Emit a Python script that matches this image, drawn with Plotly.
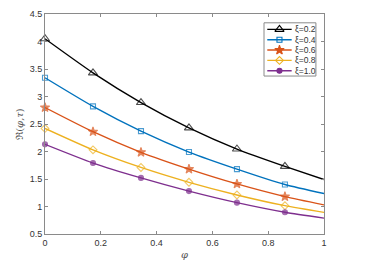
import plotly.graph_objects as go

phi = [0.0, 0.172, 0.344, 0.516, 0.688, 0.86, 1.0]
names = ["ξ=0.2", "ξ=0.4", "ξ=0.6", "ξ=0.8", "ξ=1.0"]
v_02 = [4.05, 3.43, 2.89, 2.43, 2.045, 1.73, 1.49]
v_04 = [3.34, 2.82, 2.37, 1.99, 1.68, 1.40, 1.235]
v_06 = [2.80, 2.36, 1.985, 1.68, 1.41, 1.18, 1.03]
v_08 = [2.42, 2.03, 1.71, 1.44, 1.21, 1.015, 0.893]
v_10 = [2.13, 1.79, 1.52, 1.28, 1.07, 0.895, 0.788]
series = [v_02, v_04, v_06, v_08, v_10]
x_ticks = [0, 0.2, 0.4, 0.6, 0.8, 1]
y_ticks = [0.5, 1, 1.5, 2, 2.5, 3, 3.5, 4, 4.5]

colors = ["#000000", "#0072BD", "#D95319", "#EDB120", "#7E2F8E"]
symbols = ["triangle-up-open", "square-open", "star", "diamond-open", "circle"]
msizes = [8, 5, 7, 6, 5]

AX_COLOR = "#8a8a8a"
TXT_COLOR = "#333333"
FONT = "Liberation Sans, Arial"

fig = go.Figure()
for name, vals, c, s, ms in zip(names, series, colors, symbols, msizes):
    sizes = [ms] * (len(vals) - 1) + [0]
    fig.add_trace(go.Scatter(
        x=phi, y=vals, name=name, mode="lines+markers", showlegend=False, cliponaxis=False,
        line=dict(color=c, width=1.4, shape="spline", smoothing=0.6),
        marker=dict(symbol=s, size=sizes, color=c, line=dict(color=c, width=1.1)),
        xaxis="x", yaxis="y",
    ))

# compact legend drawn in its own small axes box
for i, (name, c, s, ms) in enumerate(zip(names, colors, symbols, msizes)):
    yy = 1 - (0.124 + i * 0.194)
    fig.add_trace(go.Scatter(
        x=[0.063, 0.533], y=[yy, yy], mode="lines", showlegend=False, hoverinfo="skip",
        line=dict(color=c, width=1.4), xaxis="x2", yaxis="y2"))
    fig.add_trace(go.Scatter(
        x=[0.298], y=[yy], mode="markers", showlegend=False, hoverinfo="skip",
        marker=dict(symbol=s, size=ms, color=c, line=dict(color=c, width=1.1)),
        xaxis="x2", yaxis="y2"))
    fig.add_annotation(x=0.56, y=yy, xref="x2", yref="y2", text=name, showarrow=False,
                       xanchor="left", yanchor="middle",
                       font=dict(family=FONT, size=8.5, color=TXT_COLOR))

axis_common = dict(showline=True, linecolor=AX_COLOR, linewidth=1, mirror="ticks",
                   ticks="inside", ticklen=3, tickcolor=AX_COLOR, showgrid=False,
                   zeroline=False, automargin=False,
                   tickfont=dict(family=FONT, size=9, color=TXT_COLOR))

fig.update_layout(
    width=371, height=270,
    margin=dict(l=45, r=47, t=14, b=36),
    plot_bgcolor="rgba(0,0,0,0)", paper_bgcolor="white",
    xaxis=dict(range=[0, 1], tickvals=x_ticks, ticktext=[f"{t:g}" for t in x_ticks],
               title=dict(text="<i>φ</i>", standoff=4, font=dict(family="DejaVu Serif", size=10, color="#555555")),
               domain=[0, 1], **axis_common),
    yaxis=dict(range=[0.5, 4.5], tickvals=y_ticks, ticktext=[f"{t:g}" for t in y_ticks],
               title=dict(text="ℜ(<i>φ</i>,<i>τ</i>)", standoff=4, font=dict(family="DejaVu Serif", size=10, color="#555555")),
               domain=[0, 1], **axis_common),
    xaxis2=dict(domain=[0.785, 0.971], range=[0, 1], visible=False, anchor="y2", fixedrange=True),
    yaxis2=dict(domain=[0.718, 0.960], range=[0, 1], visible=False, anchor="x2", fixedrange=True),
    shapes=[dict(type="rect", xref="paper", yref="paper", x0=0.785, x1=0.971, y0=0.718, y1=0.960,
                 fillcolor="white", line=dict(color=AX_COLOR, width=1), layer="below")],
    showlegend=False,
)

fig.write_html("out.html", config={"displayModeBar": False},
               post_script="document.body.style.margin='0';")
